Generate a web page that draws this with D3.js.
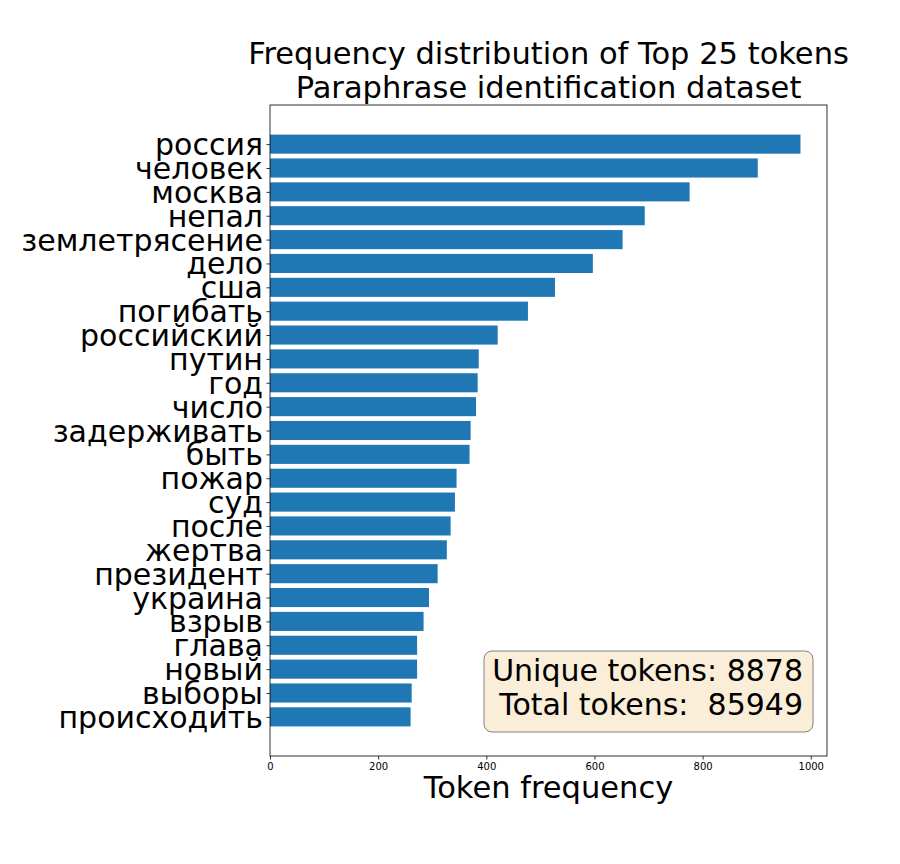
<!DOCTYPE html>
<html>
<head>
<meta charset="utf-8">
<script src="https://cdn.jsdelivr.net/npm/d3@7"></script>
<style>
  body { margin: 0; background: #fff; }
  svg { font-family: "DejaVu Sans", sans-serif; }
</style>
</head>
<body>
<div id="chart"></div>
<script>
// top 25 tokens, listed top to bottom as in the picture
var tokens = ["россия", "человек", "москва", "непал", "землетрясение", "дело", "сша",
    "погибать", "российский", "путин", "год", "число", "задерживать", "быть", "пожар",
    "суд", "после", "жертва", "президент", "украина", "взрыв", "глава", "новый",
    "выборы", "происходить"];
var counts = [981, 902, 776, 693, 652, 597, 527, 477, 421, 386, 384, 381, 371, 369, 345,
    342, 334, 327, 310, 294, 284, 272, 272, 262, 260];
var xTicks = [0, 200, 400, 600, 800, 1000];
var titleLines = ["Frequency distribution of Top 25 tokens", "Paraphrase identification dataset"];
var boxLines = ["Unique tokens: 8878", "Total tokens:  85949"];

var width = 900,
    height = 864;
var plot = { left: 270, right: 827, top: 105, bottom: 756 };
var bigFont = "30.5px";

var svg = d3.select("#chart").append("svg")
    .attr("width", width)
    .attr("height", height);

var n = tokens.length;
var x = d3.scaleLinear()
    .domain([0, d3.max(counts) * 1.05])
    .range([plot.left, plot.right]);

// matplotlib style: bar i at position (n-1-i), height 0.8, 5% margins
var yMin = -0.4 - 0.05 * (n - 1 + 0.8),
    yMax = n - 1 + 0.4 + 0.05 * (n - 1 + 0.8);
var y = d3.scaleLinear()
    .domain([yMin, yMax])
    .range([plot.bottom, plot.top]);

svg.selectAll(".bar")
    .data(counts)
    .enter()
    .append("rect")
    .attr("class", "bar")
    .attr("x", x(0))
    .attr("y", function (d, i) { return y(n - 1 - i + 0.4); })
    .attr("width", function (d) { return x(d) - x(0); })
    .attr("height", function (d, i) { return y(n - 1 - i - 0.4) - y(n - 1 - i + 0.4); })
    .style("fill", "#1f77b4");

// x axis
var xAxis = d3.axisBottom(x)
    .tickValues(xTicks)
    .tickFormat(d3.format("d"))
    .tickSize(3.5)
    .tickPadding(3);
var gx = svg.append("g")
    .attr("transform", "translate(0," + plot.bottom + ")")
    .call(xAxis);
gx.select(".domain").remove();
gx.selectAll("text")
    .style("font-size", "10px")
    .style("font-family", "DejaVu Sans")
    .style("fill", "#000");
gx.selectAll("line").style("stroke", "#000").style("stroke-width", 0.8);

// y axis
var yAxis = d3.axisLeft(y)
    .tickValues(d3.range(n))
    .tickFormat(function (d) { return tokens[n - 1 - d]; })
    .tickSize(3.5)
    .tickPadding(3.5);
var gy = svg.append("g")
    .attr("transform", "translate(" + plot.left + ",0)")
    .call(yAxis);
gy.select(".domain").remove();
gy.selectAll("text")
    .attr("dy", "0.35em")
    .style("font-size", "30px")
    .style("font-family", "DejaVu Sans")
    .style("fill", "#000");
gy.selectAll("line").style("stroke", "#000").style("stroke-width", 0.8);

// frame
svg.append("rect")
    .attr("x", plot.left)
    .attr("y", plot.top)
    .attr("width", plot.right - plot.left)
    .attr("height", plot.bottom - plot.top)
    .style("fill", "none")
    .style("stroke", "#000")
    .style("stroke-width", 0.8);

// title
svg.selectAll(".title")
    .data(titleLines)
    .enter()
    .append("text")
    .attr("class", "title")
    .attr("x", (plot.left + plot.right) / 2)
    .attr("y", function (d, i) { return 64 + i * 34; })
    .attr("text-anchor", "middle")
    .style("font-size", bigFont)
    .text(function (d) { return d; });

// x label
svg.append("text")
    .attr("x", (plot.left + plot.right) / 2)
    .attr("y", 798)
    .attr("text-anchor", "middle")
    .style("font-size", bigFont)
    .text("Token frequency");

// stats box
svg.append("rect")
    .attr("x", 484)
    .attr("y", 651)
    .attr("width", 329)
    .attr("height", 81)
    .attr("rx", 8)
    .style("fill", "#faeed9")
    .style("stroke", "#808080")
    .style("stroke-width", 1);

svg.selectAll(".boxtext")
    .data(boxLines)
    .enter()
    .append("text")
    .attr("class", "boxtext")
    .attr("x", 803)
    .attr("y", function (d, i) { return 681 + i * 34; })
    .attr("text-anchor", "end")
    .style("font-size", "30px")
    .style("white-space", "pre")
    .attr("xml:space", "preserve")
    .text(function (d) { return d; });
</script>
</body>
</html>
